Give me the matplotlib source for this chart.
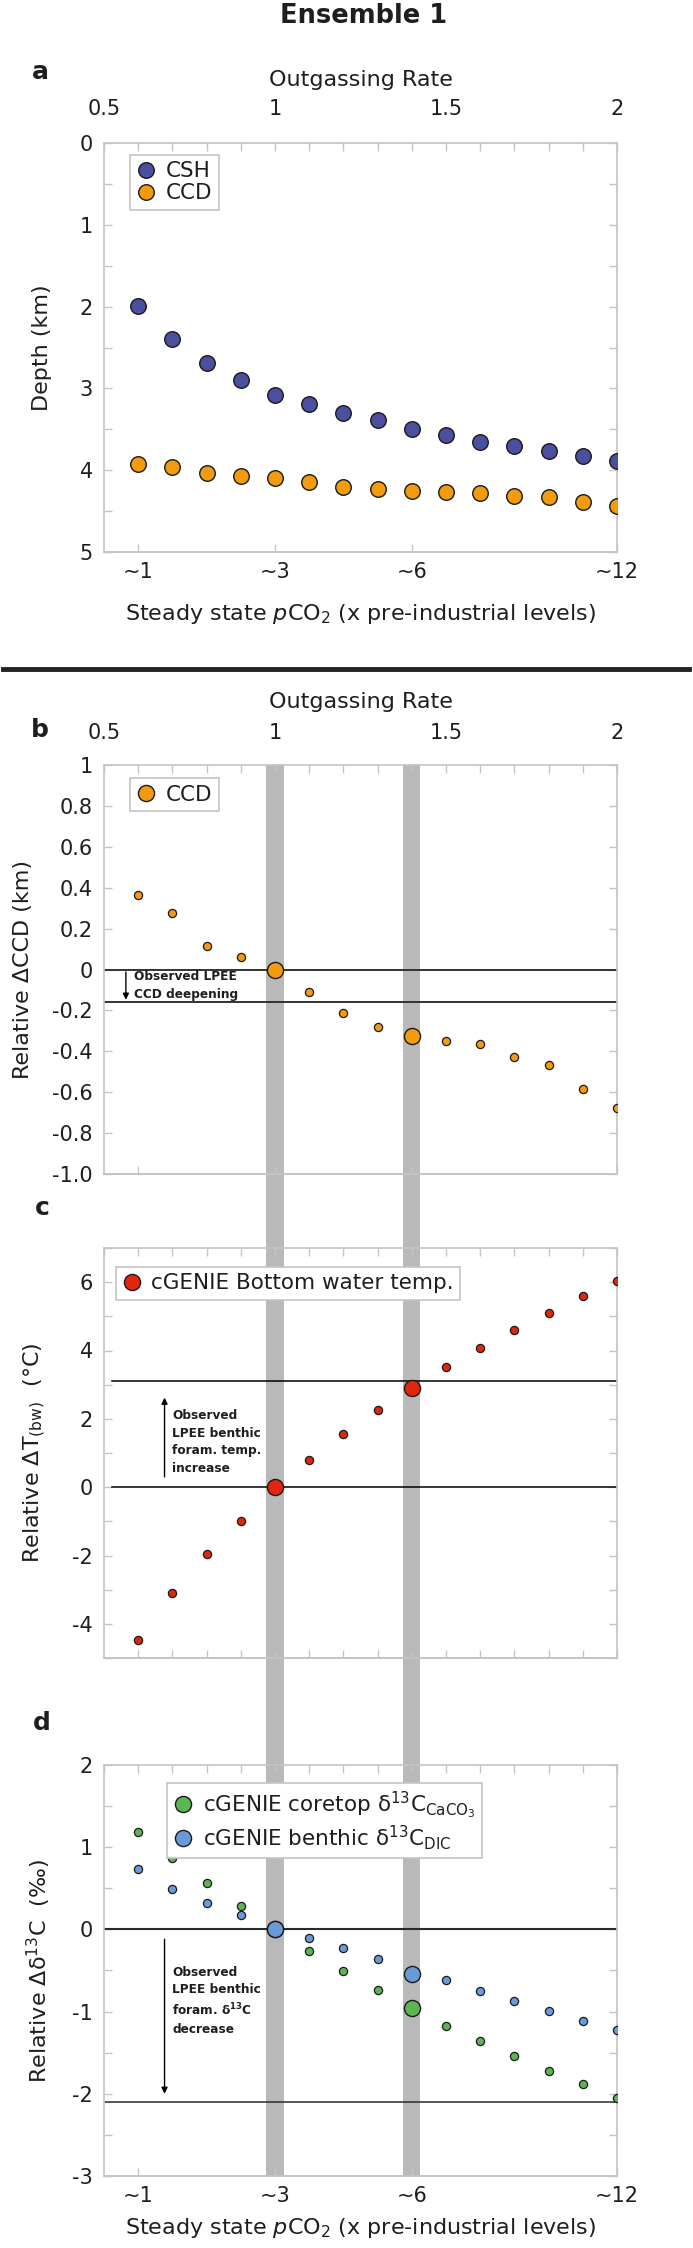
import numpy as np
import matplotlib
matplotlib.use("Agg")
import matplotlib.pyplot as plt
from matplotlib.lines import Line2D
from matplotlib.ticker import FixedLocator

plt.rcParams["font.family"] = ["DejaVu Sans"]
plt.rcParams["mathtext.default"] = "regular"
plt.rcParams["axes.unicode_minus"] = False

# =========================================================
# data
# =========================================================
outgassing = [0.6, 0.7, 0.8, 0.9, 1.0, 1.1, 1.2, 1.3, 1.4, 1.5, 1.6, 1.7, 1.8, 1.9, 2.0]
rate_ticks = [0.5, 1.0, 1.5, 2.0]
rate_labels = ["0.5", "1", "1.5", "2"]
pco2_ticks = [0.6, 1.0, 1.4, 2.0]
pco2_labels = ["~1", "~3", "~6", "~12"]
highlight = [1.0, 1.4]

csh_depth = [1.99, 2.39, 2.69, 2.90, 3.08, 3.19, 3.30, 3.39, 3.50, 3.57, 3.65, 3.70, 3.77, 3.83, 3.89]
ccd_depth = [3.92, 3.96, 4.04, 4.07, 4.10, 4.15, 4.20, 4.23, 4.26, 4.27, 4.28, 4.31, 4.33, 4.39, 4.44]

rel_ccd = [0.364, 0.275, 0.117, 0.060, 0.0, -0.108, -0.214, -0.280, -0.324, -0.348, -0.363,
           -0.430, -0.467, -0.586, -0.676]
rel_tbw = [-4.48, -3.11, -1.96, -0.99, 0.0, 0.80, 1.55, 2.25, 2.90, 3.51, 4.07, 4.60, 5.11, 5.59, 6.03]
rel_d13c_caco3 = [1.18, 0.87, 0.56, 0.28, 0.0, -0.26, -0.51, -0.74, -0.96, -1.17, -1.36, -1.54,
                  -1.72, -1.88, -2.05]
rel_d13c_dic = [0.73, 0.49, 0.32, 0.18, 0.0, -0.10, -0.23, -0.36, -0.54, -0.62, -0.75, -0.87,
                -0.99, -1.11, -1.22]

obs_ccd = [0.0, -0.16]
obs_tbw = [0.0, 3.1]
obs_d13c = [0.0, -2.1]

# =========================================================
# style
# =========================================================
SPINE = "#c4c4c4"
TXT = "#1e1e1e"
EDGE = "#1a1a1a"
C_CSH = "#4b4f9f"
C_CCD = "#f29b0f"
C_RED = "#e0260c"
C_GREEN = "#5cb551"
C_BLUE = "#6a9bd8"
BAND = "#b9b9b9"

TICK_FS = 15
LABEL_FS = 16
LEG_FS = 15.5
NOTE_FS = 8.7

W, H = 693, 2248
L = 104 / W
AW = 513 / W


def rect(top, bottom):
    return [L, 1 - bottom / H, AW, (bottom - top) / H]


def frame(ax, ylim, yticks, ylabels, yminor=None, top_labels=False, top_minor=True,
          bottom_ticks=None, bottom_labels=None, bottom_minor=None, top_pad=16):
    ax.set_facecolor("none")
    for s in ax.spines.values():
        s.set_color(SPINE)
        s.set_linewidth(1.2)
    ax.set_xlim(0.5, 2.0)
    ax.set_ylim(*ylim)
    ax.xaxis.set_major_locator(FixedLocator(rate_ticks))
    if top_minor:
        ax.xaxis.set_minor_locator(FixedLocator(outgassing))
    ax.set_xticklabels(rate_labels if top_labels else [""] * len(rate_ticks))
    ax.tick_params(axis="x", which="both", direction="in", top=True, bottom=False,
                   labeltop=top_labels, labelbottom=False, color=SPINE, length=6,
                   width=1, labelsize=TICK_FS, labelcolor=TXT, pad=top_pad)
    ax.yaxis.set_major_locator(FixedLocator(yticks))
    ax.set_yticklabels(ylabels)
    if yminor is not None:
        ax.yaxis.set_minor_locator(FixedLocator(yminor))
    ax.tick_params(axis="y", which="both", direction="in", left=True, right=True,
                   color=SPINE, length=6, width=1, labelsize=TICK_FS, labelcolor=TXT, pad=8)

    sec = ax.secondary_xaxis("bottom")
    sec.spines["bottom"].set_color(SPINE)
    sec.spines["bottom"].set_linewidth(1.2)
    sec.xaxis.set_major_locator(FixedLocator(bottom_ticks if bottom_ticks else []))
    if bottom_labels:
        sec.set_xticklabels(bottom_labels)
    else:
        sec.set_xticklabels([""] * len(bottom_ticks or []))
    if bottom_minor is not None:
        sec.xaxis.set_minor_locator(FixedLocator(bottom_minor))
    sec.tick_params(axis="x", which="both", direction="in", color=SPINE, length=6, width=1,
                    labelsize=TICK_FS, labelcolor=TXT, pad=7)
    return sec


def scatter_pair(ax, x, y, color, label):
    x = np.asarray(x)
    y = np.asarray(y)
    big = np.isin(np.round(x, 2), highlight)
    ax.plot(x[~big], y[~big], "o", ms=5.9, mfc=color, mec=EDGE, mew=0.9, zorder=3)
    ax.plot(x[big], y[big], "o", ms=11.6, mfc=color, mec=EDGE, mew=1.0, zorder=4, label=label)


def legend(ax, x, y):
    leg = ax.legend(loc="upper left", bbox_to_anchor=(x, y), borderaxespad=0, frameon=True,
                    fancybox=False, edgecolor=SPINE, framealpha=1, fontsize=LEG_FS,
                    handlelength=0.9, handletextpad=0.45, borderpad=0.3, labelspacing=0.1)
    leg.get_frame().set_linewidth(1.2)
    for t in leg.get_texts():
        t.set_color(TXT)
    leg.set_zorder(10)
    return leg


def note(ax, x_arrow, y0, y1, x_text, y_text, text):
    ax.annotate("", xy=(x_arrow, y1), xytext=(x_arrow, y0),
                arrowprops=dict(arrowstyle="-|>", color="black", lw=1.0, mutation_scale=9,
                                shrinkA=0, shrinkB=0), zorder=5)
    ax.text(x_text, y_text, text, ha="left", va="center", fontsize=NOTE_FS,
            fontweight="bold", color=TXT, linespacing=1.45, zorder=5)


fig = plt.figure(figsize=(W / 100, H / 100), dpi=100)

fig.text(0.524, 1 - 16 / H, "Ensemble 1", ha="center", va="center", fontsize=18.5,
         fontweight="bold", color=TXT)
for letter, (lx, ly) in zip("abcd", [(40, 72), (40, 730), (42, 1208), (42, 1723)]):
    fig.text(lx / W, 1 - ly / H, letter, ha="center", va="center", fontsize=18,
             fontweight="bold", color=TXT)
fig.add_artist(Line2D([0.005, 0.994], [1 - 669 / H] * 2, color="#222222", lw=3.5))

# grey bands behind panels b-d
bg = fig.add_axes(rect(765, 2176), zorder=0)
bg.set_xlim(0.5, 2.0)
bg.axis("off")
for xh in highlight:
    bg.axvspan(xh - 0.025, xh + 0.025, color=BAND, lw=0)

xlabel_bottom = "Steady state $\\mathit{p}$CO$_2$ (x pre-industrial levels)"

# ---------------- panel a ----------------
ax_a = fig.add_axes(rect(143, 552), zorder=1)
frame(ax_a, (5, 0), [0, 1, 2, 3, 4, 5], ["0", "1", "2", "3", "4", "5"],
      yminor=np.arange(0, 5.01, 0.5), top_labels=True, top_pad=17,
      bottom_ticks=pco2_ticks, bottom_labels=pco2_labels)
ax_a.plot(outgassing, csh_depth, "o", ms=11.2, mfc=C_CSH, mec=EDGE, mew=1.0, label="CSH", zorder=3)
ax_a.plot(outgassing, ccd_depth, "o", ms=11.2, mfc=C_CCD, mec=EDGE, mew=1.0, label="CCD", zorder=3)
legend(ax_a, 0.051, 0.971)
ax_a.xaxis.set_label_position("top")
ax_a.set_xlabel("Outgassing Rate", fontsize=LABEL_FS, color=TXT)
ax_a.xaxis.set_label_coords(0.5, 1.139)
ax_a.set_ylabel("Depth (km)", fontsize=LABEL_FS, color=TXT)
ax_a.yaxis.set_label_coords(-0.101, 0.5)
ax_a.text(0.5, -50 / 409, xlabel_bottom, transform=ax_a.transAxes, ha="center", va="top",
          fontsize=LABEL_FS, color=TXT)

# ---------------- panel b ----------------
ax_b = fig.add_axes(rect(765, 1174), zorder=1)
b_ticks = [-1.0, -0.8, -0.6, -0.4, -0.2, 0.0, 0.2, 0.4, 0.6, 0.8, 1.0]
b_labels = ["-1.0", "-0.8", "-0.6", "-0.4", "-0.2", "0", "0.2", "0.4", "0.6", "0.8", "1"]
frame(ax_b, (-1, 1), b_ticks, b_labels, top_labels=True, top_pad=15.5,
      bottom_ticks=pco2_ticks)
for yv in obs_ccd:
    ax_b.axhline(yv, color="#333333", lw=1.4, zorder=2)
scatter_pair(ax_b, outgassing, rel_ccd, C_CCD, "CCD")
legend(ax_b, 0.051, 0.968)
note(ax_b, 0.564, -0.012, -0.148, 0.588, -0.078, "Observed LPEE\nCCD deepening")
ax_b.xaxis.set_label_position("top")
ax_b.set_xlabel("Outgassing Rate", fontsize=LABEL_FS, color=TXT)
ax_b.xaxis.set_label_coords(0.5, 1.139)
ax_b.set_ylabel("Relative \u0394CCD (km)", fontsize=LABEL_FS, color=TXT)
ax_b.yaxis.set_label_coords(-0.138, 0.5)

# ---------------- panel c ----------------
ax_c = fig.add_axes(rect(1248, 1658), zorder=1)
frame(ax_c, (-5, 7), [-4, -2, 0, 2, 4, 6], ["-4", "-2", "0", "2", "4", "6"],
      yminor=np.arange(-5, 7.01, 1), top_labels=False,
      bottom_ticks=[], bottom_minor=outgassing)
for yv in obs_tbw:
    ax_c.axhline(yv, xmin=0.015, color="black", lw=1.1, zorder=2)
scatter_pair(ax_c, outgassing, rel_tbw, C_RED, "cGENIE Bottom water temp.")
legend(ax_c, 0.023, 0.954)
note(ax_c, 0.677, 0.3, 2.62, 0.70, 1.32, "Observed\nLPEE benthic\nforam. temp.\nincrease")
ax_c.set_ylabel("Relative \u0394T$_{(bw)}$  (\u00b0C)", fontsize=LABEL_FS, color=TXT)
ax_c.yaxis.set_label_coords(-0.109, 0.5)

# ---------------- panel d ----------------
ax_d = fig.add_axes(rect(1765, 2176), zorder=1)
frame(ax_d, (-3, 2), [-3, -2, -1, 0, 1, 2], ["-3", "-2", "-1", "0", "1", "2"],
      yminor=np.arange(-3, 2.01, 0.5), top_labels=False,
      bottom_ticks=pco2_ticks, bottom_labels=pco2_labels)
for yv, lw in zip(obs_d13c, [1.5, 1.1]):
    ax_d.axhline(yv, color="#2a2a2a", lw=lw, zorder=2)
scatter_pair(ax_d, outgassing, rel_d13c_caco3, C_GREEN,
             "cGENIE coretop \u03b4$^{13}$C$_{CaCO_3}$")
scatter_pair(ax_d, outgassing, rel_d13c_dic, C_BLUE,
             "cGENIE benthic \u03b4$^{13}$C$_{DIC}$")
legend(ax_d, 0.123, 0.956)
note(ax_d, 0.677, -0.12, -2.0, 0.70, -0.87,
     "Observed\nLPEE benthic\nforam. \u03b4$^{13}$C\ndecrease")
ax_d.set_ylabel("Relative \u0394\u03b4$^{13}$C  (\u2030)", fontsize=LABEL_FS, color=TXT)
ax_d.yaxis.set_label_coords(-0.099, 0.5)
ax_d.text(0.5, -40 / 411, xlabel_bottom, transform=ax_d.transAxes, ha="center", va="top",
          fontsize=LABEL_FS, color=TXT)

fig.savefig("out.png", dpi=100)
